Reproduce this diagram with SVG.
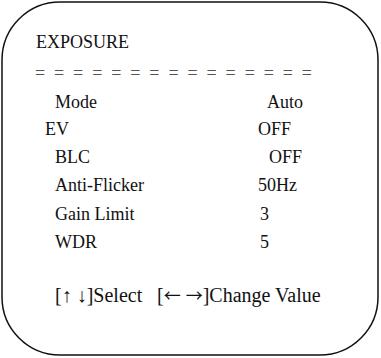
<svg xmlns="http://www.w3.org/2000/svg" width="381" height="358" viewBox="0 0 381 358">
<rect width="381" height="358" fill="#fff"/>
<g id="frame"><rect x="2" y="2" width="376" height="353" rx="58" ry="58" fill="none" stroke="#111" stroke-width="1.5"/></g>
<g id="menu" font-family="Liberation Serif, Times New Roman, serif" font-size="18" fill="#111">
<g id="title"><text x="36" y="48">EXPOSURE</text></g>
<g id="rule"><text x="35" y="79" textLength="277" lengthAdjust="spacing" fill="#555">= = = = = = = = = = = = = = =</text></g>
<g id="mode"><text x="55" y="108">Mode</text><text x="267" y="108">Auto</text></g>
<g id="ev"><text x="45" y="135">EV</text><text x="258" y="135">OFF</text></g>
<g id="blc"><text x="55" y="163">BLC</text><text x="269" y="163">OFF</text></g>
<g id="antiflicker"><text x="55" y="191">Anti-Flicker</text><text x="258" y="191">50Hz</text></g>
<g id="gainlimit"><text x="55" y="220">Gain Limit</text><text x="260" y="220">3</text></g>
<g id="wdr"><text x="55" y="248">WDR</text><text x="260" y="248">5</text></g>
<g id="footer" font-size="20"><text x="55" y="302">[↑ ↓]Select</text><text x="157" y="302">[<tspan font-family="Noto Sans CJK SC, sans-serif" font-size="17">←</tspan> <tspan font-family="Noto Sans CJK SC, sans-serif" font-size="17">→</tspan>]Change Value</text></g>
</g>
</svg>
